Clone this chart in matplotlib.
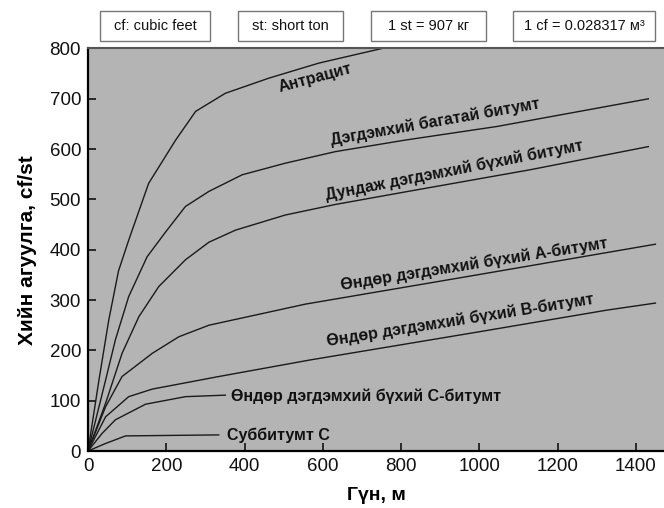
import matplotlib
matplotlib.use('Agg')
import matplotlib.pyplot as plt
from matplotlib.patches import Rectangle

# ================== DATA ==================
# gas content (cf/st) vs depth (m), one curve per coal rank
anthracite_x = [0, 28, 53, 78, 104, 113, 155, 224, 275, 351, 462, 590, 751]
anthracite_y = [0, 141, 260, 358, 419, 439, 532, 618, 675, 711, 741, 771, 800]

low_vol_x = [0, 45, 70, 104, 151, 198, 249, 309, 394, 504, 632, 811, 1045, 1432]
low_vol_y = [0, 141, 221, 307, 386, 435, 486, 516, 549, 572, 595, 618, 645, 700]

med_vol_x = [0, 45, 87, 130, 181, 249, 309, 377, 504, 632, 811, 1130, 1432]
med_vol_y = [0, 95, 194, 267, 327, 380, 415, 439, 469, 490, 515, 559, 605]

hv_a_x = [0, 45, 87, 164, 232, 309, 556, 994, 1450]
hv_a_y = [0, 88, 148, 194, 227, 250, 292, 350, 411]

hv_b_x = [0, 45, 104, 164, 334, 568, 1000, 1326, 1450]
hv_b_y = [0, 68, 108, 123, 148, 181, 237, 280, 294]

hv_c_x = [0, 36, 70, 147, 249, 351]
hv_c_y = [0, 35, 62, 93, 108, 111]

subbit_x = [0, 45, 96, 334]
subbit_y = [0, 15, 30, 32]

curves = [
    (anthracite_x, anthracite_y),
    (low_vol_x, low_vol_y),
    (med_vol_x, med_vol_y),
    (hv_a_x, hv_a_y),
    (hv_b_x, hv_b_y),
    (hv_c_x, hv_c_y),
    (subbit_x, subbit_y),
]

# label text, x, y, rotation, ha
labels = [
    ('Антрацит', 581, 741, 15, 'center'),
    ('Дэгдэмхий багатай битумт', 886, 654, 10, 'center'),
    ('Дундаж дэгдэмхий бүхий битумт', 936, 557, 11, 'center'),
    ('Өндөр дэгдэмхий бүхий А-битумт', 988, 372, 9, 'center'),
    ('Өндөр дэгдэмхий бүхий В-битумт', 952, 259, 9, 'center'),
    ('Өндөр дэгдэмхий бүхий С-битумт', 366, 108, 0, 'left'),
    ('Суббитумт С', 354, 32, 0, 'left'),
]

notes = ['cf: cubic feet', 'st: short ton', '1 st = 907 кг', '1 cf = 0.028317 м³']
# box left/right in pixels
note_boxes = [(100, 210), (238, 343), (371, 486), (513, 655)]

xticks = list(range(0, 1401, 200))
yticks = list(range(0, 801, 100))

# ================== PLOT ==================
plt.rcParams['font.family'] = ['Liberation Sans', 'DejaVu Sans']

W, H = 664, 508
fig = plt.figure(figsize=(W / 100, H / 100), dpi=100)
ax = fig.add_axes([88 / W, 1 - 451 / H, 1 - 88 / W, (451 - 48.5) / H])
ax.set_facecolor('#b4b4b4')

for xs, ys in curves:
    ax.plot(xs, ys, color='#1a1a1a', lw=1.0)

for txt, x, y, rot, ha in labels:
    ax.text(x, y, txt, rotation=rot, ha=ha, va='center', fontsize=11.5,
            fontweight='bold', color='#111111', rotation_mode='anchor')

ax.set_xlim(0, 1472)
ax.set_ylim(0, 800)
ax.set_xticks(xticks)
ax.set_yticks(yticks)
ax.tick_params(direction='in', length=6, width=1.2, labelsize=13.5, pad=5,
               colors='#111111')
ax.spines['left'].set_linewidth(1.6)
ax.spines['bottom'].set_linewidth(1.6)
ax.spines['top'].set_color('#555555')
ax.spines['top'].set_linewidth(1.5)
ax.spines['right'].set_visible(False)

ax.set_xlabel('Гүн, м', fontsize=14, fontweight='bold', labelpad=9)
ax.set_ylabel('Хийн агуулга, cf/st', fontsize=15, fontweight='bold', labelpad=9)

for txt, (x0, x1) in zip(notes, note_boxes):
    fig.patches.append(Rectangle((x0 / W, 1 - 41 / H), (x1 - x0) / W, 30 / H,
                                 transform=fig.transFigure, facecolor='white',
                                 edgecolor='#777777', lw=1.0))
    fig.text((x0 + x1) / 2 / W, 1 - 26 / H, txt, ha='center', va='center',
             fontsize=10.5, color='#111111')

fig.savefig('out.png', dpi=100)
